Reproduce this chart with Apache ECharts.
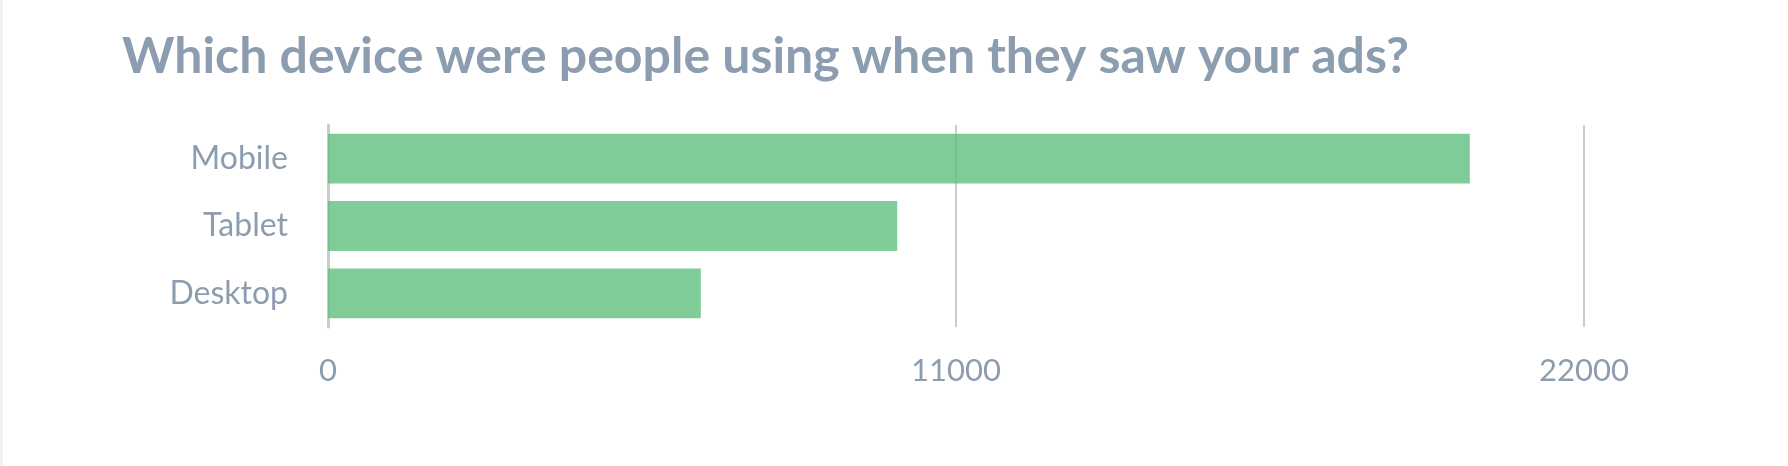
<html>
<head>
<meta charset="utf-8">
<title>Devices</title>
<script src="https://cdn.jsdelivr.net/npm/echarts@6/dist/echarts.min.js"></script>
<style>
  html, body { margin: 0; padding: 0; background: #fff; }
  #main { width: 1788px; height: 466px; box-sizing: border-box; border-left: 3px solid #f1f1f1; }
</style>
</head>
<body>
<div id="main"></div>
<script type="text/javascript">
// data
var devices = ['Mobile', 'Tablet', 'Desktop'];
var views = [20000, 9970, 6530];
var xTicks = [0, 11000, 22000];

// the div has a 3px left border, so positions are 3px less than on screen
var myChart = echarts.init(document.getElementById('main'));

var option = {
    animation: false,
    title: {
        text: 'Which device were people using when they saw your ads?',
        left: 114,
        top: 27,
        textStyle: {
            fontFamily: 'Lato',
            fontWeight: 'bold',
            fontSize: 50,
            color: '#8d9db0'
        }
    },
    grid: {
        left: 325,
        right: 204,
        top: 125,
        bottom: 139,
        containLabel: false
    },
    xAxis: {
        type: 'value',
        min: xTicks[0],
        max: xTicks[xTicks.length - 1],
        interval: xTicks[1] - xTicks[0],
        axisLine: { show: false },
        axisTick: { show: false },
        splitLine: { lineStyle: { color: '#cccccc', width: 2 } },
        axisLabel: {
            margin: 28,
            fontFamily: 'Lato',
            fontSize: 31,
            color: '#8d9db0',
            formatter: function (v) { return String(v); }
        }
    },
    yAxis: {
        type: 'category',
        inverse: true,
        data: devices,
        offset: 6,
        axisLine: { lineStyle: { color: '#cccccc', width: 3 } },
        axisTick: { show: false },
        axisLabel: {
            margin: 34,
            fontFamily: 'Lato',
            fontSize: 32,
            color: '#8d9db0'
        }
    },
    series: [
        {
            type: 'bar',
            data: views,
            barCategoryGap: '26%',
            itemStyle: { color: 'rgba(95,191,126,0.8)' }
        }
    ]
};

myChart.setOption(option);
</script>
</body>
</html>
